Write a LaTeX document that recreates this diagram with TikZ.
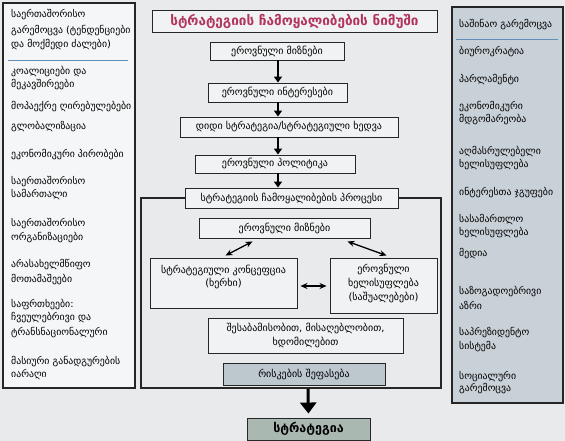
\documentclass[tikz,border=0pt]{standalone}
\usepackage{fontspec}
\setmainfont{DejaVu Sans}
\usepackage{xcolor}
\usetikzlibrary{arrows.meta,positioning,calc}

\definecolor{bgcol}{HTML}{E8EAEC}
\definecolor{boxcol}{HTML}{F1F2F3}
\definecolor{rightcol}{HTML}{C9D1D8}
\definecolor{riskcol}{HTML}{BCC7CE}
\definecolor{stratcol}{HTML}{A9B8B1}
\definecolor{titlecol}{HTML}{B2345C}
\definecolor{rulecol}{HTML}{5F8FB8}

\tikzset{
  box/.style={draw=black!85, line width=0.9pt, fill=boxcol, inner sep=0pt,
    align=center, font=\fontsize{10}{14}\selectfont},
  sidetxt/.style={anchor=west, inner sep=0pt, font=\fontsize{9.8}{11}\selectfont},
  downarrow/.style={line width=1.6pt, -{Triangle[length=6pt,width=8pt]}},
  bigarrow/.style={line width=3pt, -{Triangle[length=11pt,width=16pt]}},
  dblarrow/.style={line width=1.3pt, {Stealth[length=7pt,width=6pt]}-{Stealth[length=7pt,width=6pt]}}
}

\begin{document}
\begin{tikzpicture}[x=1pt,y=-1pt]
\useasboundingbox[fill=bgcol] (0,0) rectangle (565,441);

% side panels
\node[box, fill=boxcol!70!white, line width=1.2pt, minimum width=132pt, minimum height=385pt] (left) at (69,195.5) {};
\node[box, fill=rightcol, line width=1.2pt, minimum width=111pt, minimum height=396pt] (right) at (507.5,205) {};
\draw[rulecol, line width=0.8pt] (8,60) -- (128,60);
\draw[rulecol, line width=0.8pt] (456,39) -- (558,39);

\foreach \yy/\txt [count=\i] in {15/საერთაშორისო, 31/{გარემოცვა (ტენდენციები}, 45/{და მოქმედი ძალები)},
  72/{კოალიციები და}, 85/მეკავშირეები, 107/{მოპაექრე ღირებულებები}, 127/გლობალიზაცია,
  155/{ეკონომიკური პირობები}, 182/საერთაშორისო, 195/სამართალი, 224/საერთაშორისო,
  238/ორგანიზაციები, 265/არასახელმწიფო, 280/მოთამაშეები, 305/საფრთხეები:,
  318/{ჩვეულებრივი და}, 333/ტრანსნაციონალური, 362/{მასიური განადგურების}, 375/იარაღი}
  \node[sidetxt] (lt\i) at (11,\yy) {\txt};

\foreach \yy/\txt [count=\i] in {25/{საშინაო გარემოცვა}, 52/ბიუროკრატია, 80/პარლამენტი,
  107/ეკონომიკური, 120/მდგომარეობა, 152/აღმასრულებელი, 165/ხელისუფლება,
  193/{ინტერესთა ჯგუფები}, 220/სასამართლო, 233/ხელისუფლება, 254/მედია,
  292/საზოგადოებრივი, 305/აზრი, 333/საპრეზიდენტო, 347/სისტემა,
  377/სოციალური, 389/გარემოცვა}
  \node[sidetxt] (rt\i) at (459,\yy) {\txt};

% title
\node[box, minimum width=285pt, minimum height=22pt, text=titlecol,
  font=\fontsize{13.5}{15}\selectfont\bfseries] (title) at (294.5,21) {სტრატეგიის ჩამოყალიბების ნიმუში};

% main chain
\coordinate (ax) at (278,0);
\node[box, minimum width=134pt, minimum height=18pt] (aims) at (277,51) {ეროვნული მიზნები};
\node[box, minimum width=139pt, minimum height=19pt] (interests) at (277.5,92.5) {ეროვნული ინტერესები};
\node[box, minimum width=218pt, minimum height=20pt] (vision) at (289,127) {დიდი სტრატეგია/სტრატეგიული ხედვა};
\node[box, minimum width=160pt, minimum height=18pt] (policy) at (275,164) {ეროვნული პოლიტიკა};

% process frame
\draw[black!85, line width=1.2pt] (141,198) rectangle (441,388);
\node[box, minimum width=213pt, minimum height=20pt] (process) at (291.5,198) {სტრატეგიის ჩამოყალიბების პროცესი};

\draw[downarrow] (aims.south -| ax) -- (interests.north -| ax);
\draw[downarrow] (interests.south -| ax) -- (vision.north -| ax);
\draw[downarrow] (vision.south -| ax) -- (policy.north -| ax);
\draw[downarrow] (policy.south -| ax) -- (process.north -| ax);

\node[box, minimum width=171pt, minimum height=20pt] (goals) at (284.5,228) {ეროვნული მიზნები};
\node[box, minimum width=147pt, minimum height=50pt] (concept) at (223.5,283) {};
\node[sidetxt, anchor=north, align=center, font=\fontsize{10}{13}\selectfont] (concepttxt) at ([yshift=-7]concept.north)
  {სტრატეგიული კონცეფცია\\(ხერხი)};
\node[box, minimum width=107pt, minimum height=55pt] (means) at (383.5,285.5) {};
\node[sidetxt, anchor=north, align=center, font=\fontsize{10}{14}\selectfont] (meanstxt) at ([yshift=-6]means.north)
  {ეროვნული\\ხელისუფლება\\(საშუალებები)};

\draw[dblarrow] ($(goals.south)+(-32,3)$) -- ($(concept.north)+(2,-2)$);
\draw[dblarrow] ($(goals.south)+(63,3)$) -- ($(means.north)+(3,-2)$);
\draw[dblarrow] ($(concept.east)+(3,3)$) -- ($(means.west)+(-3,0.5)$);

\node[box, minimum width=195pt, minimum height=35pt] (criteria) at (305.5,335.5)
  {შესაბამისობით, მისაღებლობით,\\ხდომილებით};
\node[box, fill=riskcol, minimum width=162pt, minimum height=22pt] (risk) at (304,374) {რისკების შეფასება};

% result
\coordinate (framebot) at (308,389);
\node[box, fill=stratcol, minimum width=123pt, minimum height=22pt,
  font=\fontsize{12.5}{14}\selectfont\bfseries] (strategy) at (308.5,429) {სტრატეგია};
\draw[bigarrow, shorten >=4pt] (framebot) -- (strategy.north);
\end{tikzpicture}
\end{document}
